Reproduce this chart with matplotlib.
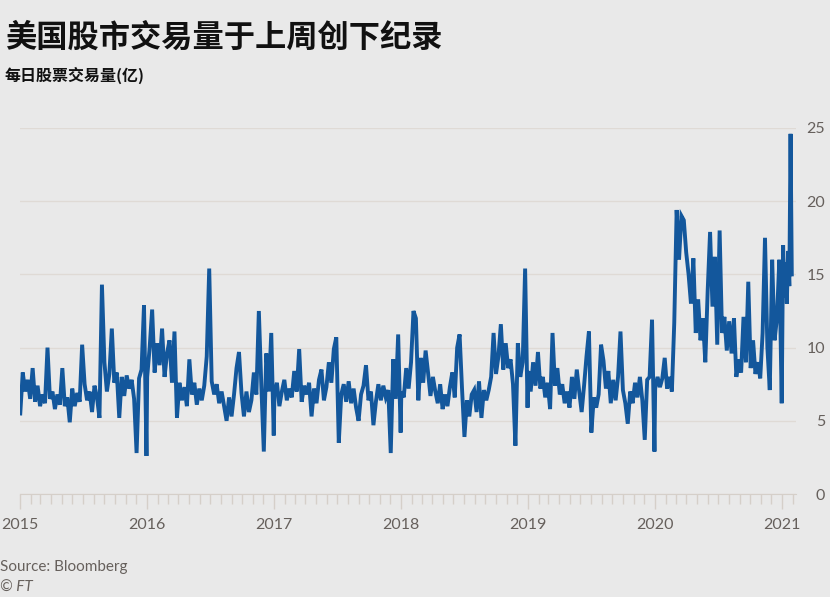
import matplotlib
matplotlib.use("Agg")
import matplotlib.pyplot as plt
import matplotlib.dates as mdates
import numpy as np
import pandas as pd

plt.rcParams['font.family'] = ['Lato', 'Noto Sans CJK SC', 'DejaVu Sans']

# weekly-ish readings of daily US share volume (bn)
vol_2015 = [5.5, 8.3, 7.0, 7.8, 6.5, 8.6, 6.3, 7.4, 6.0, 6.8, 6.2, 10.0, 6.5, 7.0,
            5.8, 6.8, 6.1, 8.6, 6.0, 6.6, 4.9, 7.2, 6.0, 6.9, 6.3, 10.2, 7.5, 6.4,
            7.0, 5.6, 7.4, 6.6, 5.2, 14.3, 9.0, 7.0, 8.2, 11.3, 7.6, 8.3, 5.2, 8.0,
            6.7, 8.1, 7.2, 7.8, 6.5, 2.8, 7.9, 8.5, 12.9, 2.6]
vol_2016 = [8.0, 10.0, 12.6, 8.3, 10.3, 8.8, 11.3, 8.0, 9.6, 10.5, 7.6, 11.1, 5.2,
            7.6, 6.4, 7.3, 6.0, 9.2, 6.8, 7.6, 6.1, 7.2, 6.4, 7.4, 9.4, 15.4, 7.7,
            6.8, 7.5, 6.2, 7.0, 6.0, 5.0, 6.6, 5.3, 6.8, 8.6, 9.7, 6.9, 5.3, 7.0,
            5.6, 6.4, 8.3, 6.8, 12.5, 7.4, 2.9, 9.6, 7.0, 11.0, 4.0]
vol_2017 = [6.8, 7.6, 6.0, 7.0, 7.8, 6.4, 7.2, 6.6, 8.4, 7.0, 9.9, 6.3, 7.4, 6.8,
            7.6, 5.3, 7.2, 6.2, 7.8, 8.5, 6.4, 7.3, 9.0, 7.6, 9.9, 10.7, 3.5, 6.8,
            7.5, 6.3, 7.7, 6.2, 7.2, 5.9, 5.0, 6.8, 7.4, 8.8, 6.4, 7.0, 4.7, 6.3,
            7.5, 6.4, 7.4, 6.6, 7.1, 2.8, 9.2, 6.5, 10.9, 4.2]
vol_2018 = [7.0, 6.6, 8.6, 7.2, 9.0, 12.5, 12.0, 6.4, 9.3, 7.6, 9.8, 8.3, 6.7, 8.0,
            7.0, 6.2, 7.5, 5.8, 6.8, 6.0, 7.3, 8.3, 6.6, 10.0, 10.9, 7.2, 3.9, 6.4,
            5.3, 6.8, 7.1, 5.6, 7.7, 5.2, 7.1, 6.4, 7.1, 8.0, 11.0, 8.2, 9.4, 11.6,
            8.5, 10.3, 8.6, 9.2, 7.5, 3.3, 10.3, 8.0, 9.0, 15.4, 5.9]
vol_2019 = [8.4, 7.0, 9.0, 7.4, 9.7, 7.2, 8.0, 6.6, 7.6, 5.8, 11.0, 7.4, 8.6, 6.8,
            7.5, 6.2, 7.0, 5.9, 8.0, 6.5, 8.5, 7.0, 5.6, 7.4, 9.4, 11.1, 4.2, 6.6,
            5.9, 6.8, 10.2, 9.1, 7.2, 8.4, 6.2, 7.8, 6.4, 8.0, 11.1, 7.1, 6.2, 4.8,
            7.0, 6.2, 7.6, 6.6, 8.0, 6.4, 3.7, 7.8, 8.0, 11.9, 2.9]
vol_2020 = [7.2, 8.0, 7.3, 7.9, 9.3, 7.2, 8.0, 7.0, 11.7, 19.4, 16.0, 19.0, 18.7,
            16.5, 15.0, 13.0, 16.1, 11.0, 13.3, 10.5, 12.0, 9.0, 13.9, 17.9, 12.8,
            16.2, 10.2, 18.0, 11.0, 12.1, 9.8, 11.8, 9.6, 12.0, 8.0, 9.2, 8.3, 12.1,
            9.0, 14.5, 8.6, 10.5, 8.2, 9.0, 7.9, 11.0, 17.5, 10.0, 7.1, 16.0, 10.5,
            12.0, 16.0, 6.2]
vol_2021 = [17.0, 13.4, 15.8, 13.0, 16.6, 14.2, 24.6, 15.0]

years = [2015, 2016, 2017, 2018, 2019, 2020]
series = [vol_2015, vol_2016, vol_2017, vol_2018, vol_2019, vol_2020]

dates = []
values = []
for yr, vals in zip(years, series):
    dates.append(pd.date_range(f'{yr}-01-02', f'{yr}-12-31', periods=len(vals)))
    values += vals
dates.append(pd.date_range('2021-01-04', '2021-01-29', periods=len(vol_2021)))
values += vol_2021
dates = np.concatenate([d.values for d in dates])

bg = '#e9e9e9'
grey = '#66605c'

fig = plt.figure(figsize=(8.3, 5.97), dpi=100, facecolor=bg)
ax = fig.add_axes([0.024, 0.1725, 0.935, 0.6131], facecolor=bg)

ax.plot(dates, values, color='#13579c', lw=2.8, solid_joinstyle='miter')

ax.set_ylim(0, 25)
ax.set_xlim(pd.Timestamp('2015-01-01'), pd.Timestamp('2021-02-10'))
ax.set_yticks([0, 5, 10, 15, 20, 25])
ax.yaxis.tick_right()
ax.tick_params(axis='y', length=0, pad=21, labelsize=11.5, labelcolor=grey)
for lab in ax.get_yticklabels():
    lab.set_horizontalalignment('right')
ax.grid(axis='y', color='#dfdad5', lw=1)

ax.xaxis.set_major_locator(mdates.YearLocator())
ax.xaxis.set_major_formatter(mdates.DateFormatter('%Y'))
ax.xaxis.set_minor_locator(mdates.MonthLocator())
ax.tick_params(axis='x', which='major', length=11, width=1, color='#d5cfc9',
               labelsize=11.5, labelcolor=grey, pad=6)
ax.tick_params(axis='x', which='minor', length=7, width=1, color='#d5cfc9')

for s in ['top', 'left', 'right']:
    ax.spines[s].set_visible(False)
ax.spines['bottom'].set_color('#d5cfc9')

fig.text(0.006, 0.937, '美国股市交易量于上周创下纪录', fontsize=22.5, fontweight='bold',
         family=['Noto Sans CJK SC'], va='center', ha='left', color='#111111')
fig.text(0.006, 0.873, '每日股票交易量(亿)', fontsize=11.5, fontweight='bold',
         family=['Noto Sans CJK SC'], va='center', ha='left', color='#111111')
fig.text(0.0, 0.05, 'Source: Bloomberg', fontsize=11, color=grey, va='center')
fig.text(0.0, 0.015, '© FT', fontsize=11, color=grey, va='center', style='italic')

fig.savefig('out.png', dpi=100, facecolor=bg)
